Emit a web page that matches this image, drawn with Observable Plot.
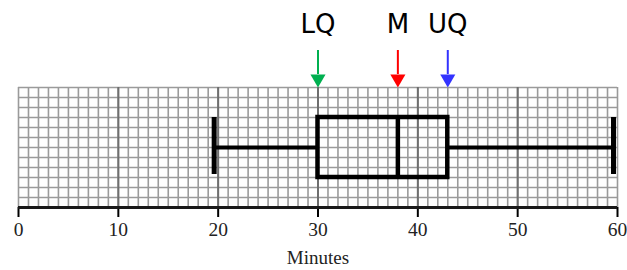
<!DOCTYPE html>
<html>
<head>
<meta charset="utf-8">
<script src="https://cdn.jsdelivr.net/npm/d3@7"></script>
<script src="https://cdn.jsdelivr.net/npm/@observablehq/plot@0.6"></script>
<style>
  html, body { margin: 0; padding: 0; background: #fff; }
</style>
</head>
<body>
<div id="chart"></div>
<script>
// Five-number summary (minutes)
const minimum = 19.6;
const lowerQuartile = 30;
const median = 38;
const upperQuartile = 43;
const maximum = 59.6;

const markerLabels = ["LQ", "M", "UQ"];
const markerValues = [lowerQuartile, median, upperQuartile];
const markerColors = ["#00b050", "#ff0000", "#3333ff"];

const xTicks = [0, 10, 20, 30, 40, 50, 60];
const xDomain = [0, 60];
const gridRows = 12;
const axisTitle = "Minutes";

const markers = markerLabels.map((label, i) => ({label, value: markerValues[i], color: markerColors[i]}));

const chart = Plot.plot({
  width: 627,
  height: 270,
  marginLeft: 18,
  marginRight: 10,
  marginTop: 87,
  marginBottom: 63,
  x: {domain: xDomain, label: null},
  y: {domain: [0, gridRows], axis: null},
  style: {background: "#fff"},
  marks: [
    // minor grid
    Plot.ruleX(d3.range(xDomain[0], xDomain[1] + 1), {y1: 0, y2: gridRows, stroke: "#9a9a9a", strokeWidth: 1.6}),
    Plot.ruleY(d3.range(0, gridRows + 1), {x1: xDomain[0], x2: xDomain[1], stroke: "#9a9a9a", strokeWidth: 1.6}),
    // major grid
    Plot.ruleX(xTicks.filter(t => t > xDomain[0] && t < xDomain[1]), {y1: 0, y2: gridRows, stroke: "#6e6e6e", strokeWidth: 2}),
    // whiskers
    Plot.ruleY([6], {x1: minimum, x2: lowerQuartile, stroke: "#000", strokeWidth: 4}),
    Plot.ruleY([6], {x1: upperQuartile, x2: maximum, stroke: "#000", strokeWidth: 4}),
    Plot.ruleX([minimum, maximum], {y1: 3.3, y2: 9, stroke: "#000", strokeWidth: 5}),
    // box
    Plot.rect([{x1: lowerQuartile, x2: upperQuartile}], {x1: "x1", x2: "x2", y1: 3, y2: 9, fill: "none", stroke: "#000", strokeWidth: 4.5}),
    Plot.ruleX([median], {y1: 3, y2: 9, stroke: "#000", strokeWidth: 4.5}),
    // axis
    Plot.axisX({ticks: xTicks, tickSize: 10, tickPadding: 5, stroke: "#000", strokeWidth: 2,
      fontSize: 19.5, fontFamily: "Liberation Serif", fill: "#222", label: null}),
    Plot.ruleY([0], {x1: xDomain[0], x2: xDomain[1], stroke: "#1a1a1a", strokeWidth: 3}),
    // arrows
    Plot.ruleX(markers, {x: "value", y1: 13.3, y2: 15.7, stroke: "color", strokeWidth: 2}),
    Plot.dot(markers, {x: "value", y: 12.87, symbol: "triangle", rotate: 180, r: 5.6, fill: "color", stroke: "none"}),
    // labels
    Plot.text(markers, {x: "value", y: 18.3, text: "label", fontSize: 26, fontFamily: "DejaVu Sans", fill: "#000"}),
    Plot.text([axisTitle], {x: 30.0, y: -5.0, text: d => d, fontSize: 19, fontFamily: "Liberation Serif", fill: "#222"})
  ]
});
document.getElementById("chart").appendChild(chart);
</script>
</body>
</html>
